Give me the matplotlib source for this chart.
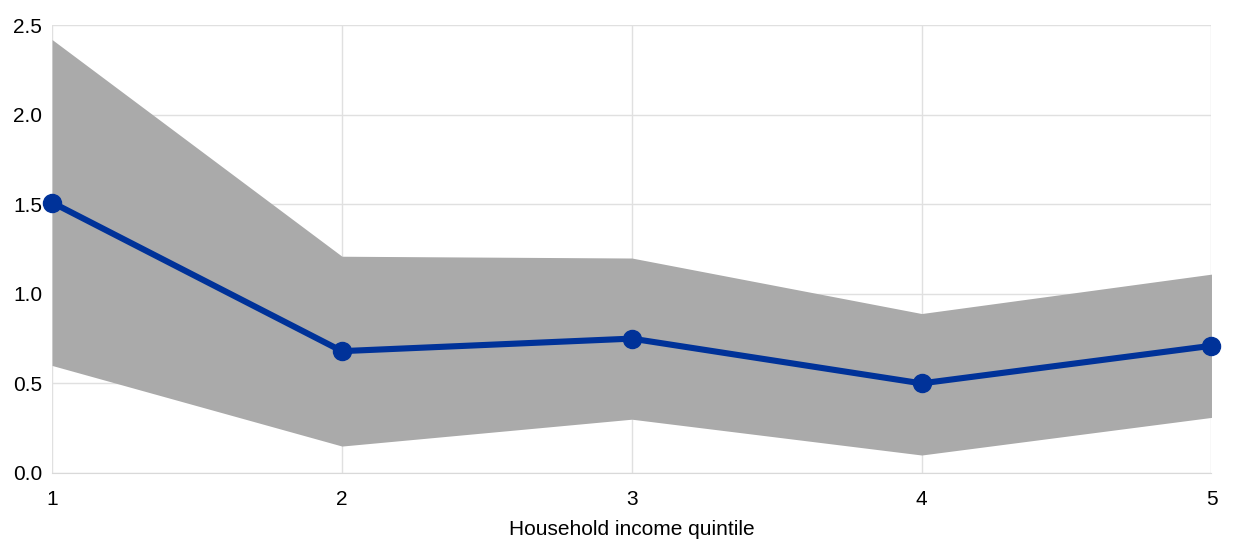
import matplotlib.pyplot as plt

plt.rcParams['font.family'] = ['Liberation Sans', 'DejaVu Sans']

# ------------------------------------------------------------
# Data
# ------------------------------------------------------------
quintiles = [1, 2, 3, 4, 5]
estimate = [1.51, 0.68, 0.75, 0.50, 0.71]
upper = [2.42, 1.21, 1.20, 0.89, 1.11]
lower = [0.60, 0.15, 0.30, 0.10, 0.31]

fig = plt.figure(figsize=(12.4, 5.48), dpi=100)
ax = fig.add_axes([0.042, 0.137, 0.935, 0.817])

ax.fill_between(quintiles, lower, upper, color="#aaaaaa", linewidth=0, zorder=2)
ax.plot(quintiles, estimate, color="#003299", linewidth=4.4,
        marker="o", markersize=13, zorder=3, clip_on=False)

ax.set_xlim(1, 5)
ax.set_ylim(0, 2.5)
ax.set_xticks(quintiles)
ax.set_yticks([0.0, 0.5, 1.0, 1.5, 2.0, 2.5])
ax.set_yticklabels([f"{v:.1f}" for v in [0.0, 0.5, 1.0, 1.5, 2.0, 2.5]])

ax.grid(True, color="#e0e0e0", linewidth=1, zorder=0)
ax.set_axisbelow(True)
for side in ["top", "right", "left"]:
    ax.spines[side].set_visible(False)
ax.spines["bottom"].set_color("#d9d9d9")
ax.tick_params(length=0, labelsize=15, colors="black")
ax.tick_params(axis="x", pad=12)
ax.tick_params(axis="y", pad=7)

ax.set_xlabel("Household income quintile", fontsize=15, labelpad=8)

fig.savefig("out.png", dpi=100, facecolor="white")
